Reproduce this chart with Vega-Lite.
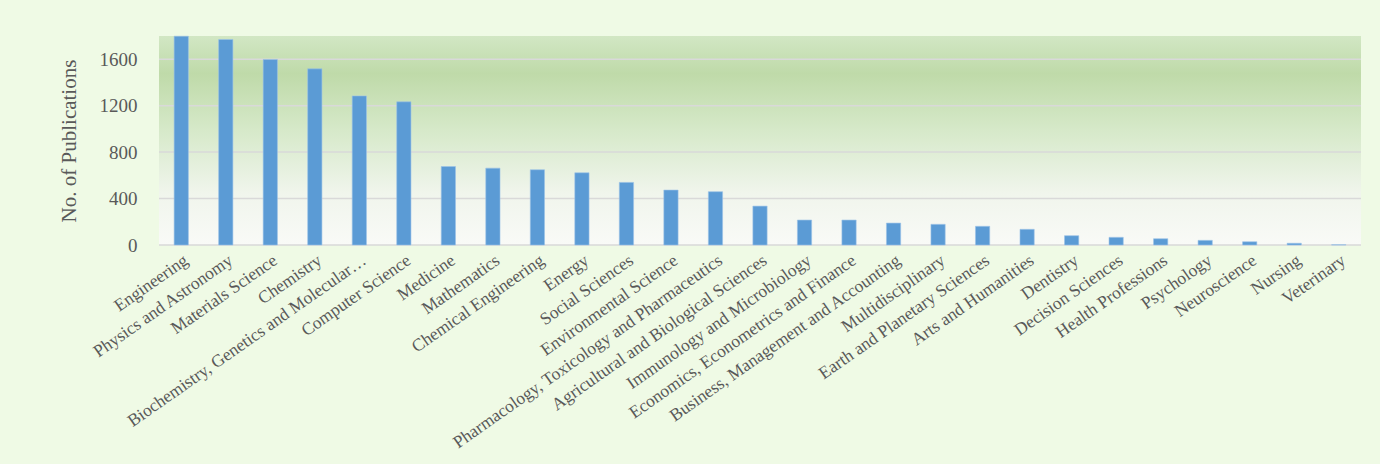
{
  "$schema": "https://vega.github.io/schema/vega-lite/v6.json",
  "width": 1202,
  "height": 209,
  "autosize": {"type": "none"},
  "padding": {"left": 159, "top": 36, "right": 19, "bottom": 219},
  "background": "#effae5",
  "config": {
    "view": {"stroke": null},
    "axisY": {"grid": false, "domain": false, "ticks": false, "labelFont": "Liberation Serif", "labelFontSize": 19, "labelColor": "#595959", "labelPadding": 22, "titleFont": "Liberation Serif", "titleFontSize": 21, "titleFontWeight": "normal", "titleColor": "#595959", "titlePadding": 20},
    "axisX": {"grid": false, "domain": false, "ticks": false, "labelFont": "Liberation Serif", "labelFontSize": 17.5, "labelColor": "#595959", "labelAngle": -35, "labelPadding": 6, "labelLimit": 0, "title": null}
  },
  "layer": [
    {
      "data": {"values": [{"lo": 0, "hi": 1800}]},
      "mark": {"type": "rect", "color": {"gradient": "linear", "x1": 0, "y1": 0, "x2": 0, "y2": 1, "stops": [{"offset": 0, "color": "#d2e7c4"}, {"offset": 0.18, "color": "#bfdaa9"}, {"offset": 0.45, "color": "#d6e9c9"}, {"offset": 0.75, "color": "#f0f5ec"}, {"offset": 1, "color": "#f9faf7"}]}},
      "encoding": {
        "y": {"field": "lo", "type": "quantitative", "scale": {"domain": [0, 1800]}, "title": "No. of Publications", "axis": {"values": [0, 400, 800, 1200, 1600], "format": "d"}},
        "y2": {"field": "hi"}
      }
    },
    {
      "data": {"values": [{"g": 0}, {"g": 400}, {"g": 800}, {"g": 1200}, {"g": 1600}]},
      "mark": {"type": "rule", "color": "#d9d9d9", "strokeWidth": 1.5},
      "encoding": {
        "y": {"field": "g", "type": "quantitative", "title": "No. of Publications", "axis": {"values": [0, 400, 800, 1200, 1600], "format": "d"}}
      }
    },
    {
      "data": {"values": [
        {"subject": "Engineering", "count": 1798},
        {"subject": "Physics and Astronomy", "count": 1770},
        {"subject": "Materials Science", "count": 1597},
        {"subject": "Chemistry", "count": 1517},
        {"subject": "Biochemistry, Genetics and Molecular Biology", "count": 1284},
        {"subject": "Computer Science", "count": 1233},
        {"subject": "Medicine", "count": 676},
        {"subject": "Mathematics", "count": 662},
        {"subject": "Chemical Engineering", "count": 648},
        {"subject": "Energy", "count": 622},
        {"subject": "Social Sciences", "count": 539},
        {"subject": "Environmental Science", "count": 473},
        {"subject": "Pharmacology, Toxicology and Pharmaceutics", "count": 459},
        {"subject": "Agricultural and Biological Sciences", "count": 335},
        {"subject": "Immunology and Microbiology", "count": 215},
        {"subject": "Economics, Econometrics and Finance", "count": 215},
        {"subject": "Business, Management and Accounting", "count": 189},
        {"subject": "Multidisciplinary", "count": 178},
        {"subject": "Earth and Planetary Sciences", "count": 161},
        {"subject": "Arts and Humanities", "count": 135},
        {"subject": "Dentistry", "count": 80},
        {"subject": "Decision Sciences", "count": 66},
        {"subject": "Health Professions", "count": 54},
        {"subject": "Psychology", "count": 40},
        {"subject": "Neuroscience", "count": 28},
        {"subject": "Nursing", "count": 15},
        {"subject": "Veterinary", "count": 2}
      ]},
      "mark": {"type": "bar", "color": "#5b9bd5", "stroke": "#9cc3e8", "strokeWidth": 0.6},
      "encoding": {
        "x": {"field": "subject", "type": "nominal", "sort": null, "scale": {"paddingInner": 0.68, "paddingOuter": 0.34}, "axis": {"labelExpr": "datum.label == 'Biochemistry, Genetics and Molecular Biology' ? 'Biochemistry, Genetics and Molecular…' : datum.label"}},
        "y": {"field": "count", "type": "quantitative", "title": "No. of Publications", "axis": {"values": [0, 400, 800, 1200, 1600], "format": "d"}}
      }
    }
  ]
}
